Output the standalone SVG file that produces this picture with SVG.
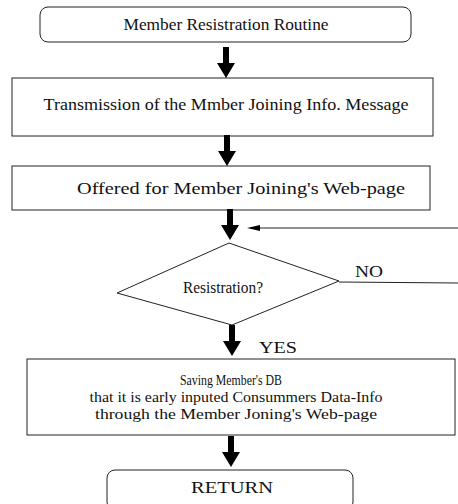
<svg xmlns="http://www.w3.org/2000/svg" width="458" height="504" viewBox="0 0 458 504">
<style>
.box{fill:none;stroke:#222;stroke-width:1}
.t{font-family:"Liberation Serif","Times New Roman",serif;font-size:17px;fill:#111}
.s{font-size:15px}
.c{text-anchor:middle}
.ln{stroke:#222;stroke-width:1;fill:none}
.ar{fill:#000}
</style>
<defs>
<path id="bigArrow" d="M-3,0 H3 V16 H9 L0,31 L-9,16 H-3 Z"/>
</defs>
<rect width="458" height="504" fill="#fff"/>
<g id="start">
<rect class="box" x="40" y="7" width="371" height="35" rx="8"/>
<text class="t c" x="226" y="30" textLength="205" lengthAdjust="spacingAndGlyphs">Member Resistration Routine</text>
</g>
<g id="transmit">
<rect class="box" x="12" y="78" width="421" height="58"/>
<text class="t c" x="226" y="110" textLength="365" lengthAdjust="spacingAndGlyphs">Transmission of the Mmber Joining Info. Message</text>
</g>
<g id="offered">
<rect class="box" x="12" y="166" width="418" height="44"/>
<text class="t c" x="241" y="194" textLength="328" lengthAdjust="spacingAndGlyphs">Offered for Member Joining's Web-page</text>
</g>
<g id="decision">
<polygon class="box" points="229,243 339,281 232,325 117,293"/>
<text class="t c" x="223" y="293" textLength="80" lengthAdjust="spacingAndGlyphs">Resistration?</text>
</g>
<g id="save">
<rect class="box" x="27" y="359" width="428" height="76"/>
<text class="t s c" x="231" y="385" textLength="102" lengthAdjust="spacingAndGlyphs">Saving Member's DB</text>
<text class="t s c" x="236" y="402" textLength="293" lengthAdjust="spacingAndGlyphs">that it is early inputed Consummers Data-Info</text>
<text class="t s c" x="236" y="419" textLength="282" lengthAdjust="spacingAndGlyphs">through the Member Joning's Web-page</text>
</g>
<g id="return">
<rect class="box" x="107" y="470" width="246" height="40" rx="8"/>
<text class="t c" x="232" y="493" textLength="82" lengthAdjust="spacingAndGlyphs">RETURN</text>
</g>
<g id="connectors">
<use href="#bigArrow" class="ar" x="226" y="47"/>
<use href="#bigArrow" class="ar" x="227" y="135"/>
<use href="#bigArrow" class="ar" x="230" y="209"/>
<use href="#bigArrow" class="ar" x="232" y="325"/>
<use href="#bigArrow" class="ar" x="231" y="436"/>
<line class="ln" x1="258" y1="228" x2="458" y2="228"/>
<polygon class="ar" points="247,228 260,225 260,231"/>
<line class="ln" x1="339" y1="282" x2="458" y2="283"/>
<text class="t" x="355" y="277" font-size="19" textLength="28" lengthAdjust="spacingAndGlyphs">NO</text>
<text class="t" x="259" y="353" font-size="19" textLength="38" lengthAdjust="spacingAndGlyphs">YES</text>
</g>
</svg>
